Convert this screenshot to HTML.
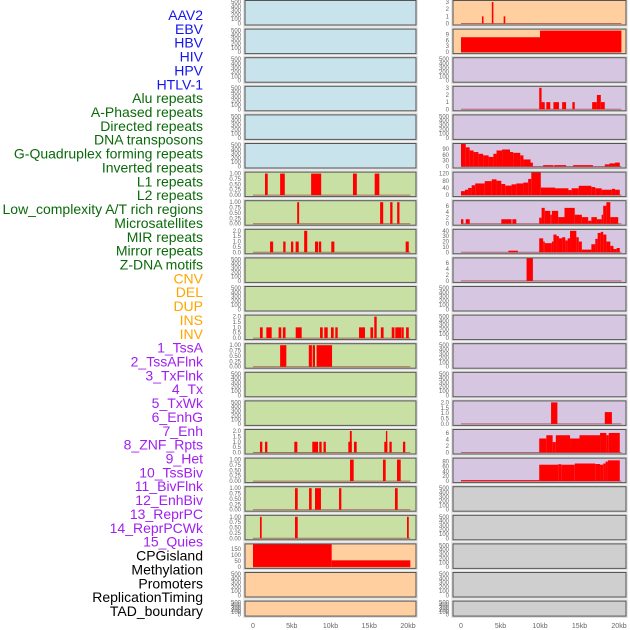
<!DOCTYPE html>
<html><head><meta charset="utf-8"><style>
html,body{margin:0;padding:0;background:#fff;width:630px;height:630px;overflow:hidden}
svg{display:block}
.lbl{font-family:"Liberation Sans",sans-serif;font-size:14px}
.tk{font-family:"Liberation Sans",sans-serif;font-size:6px;fill:#666}
.ax{font-family:"Liberation Sans",sans-serif;font-size:7px;fill:#666}
</style></head><body>
<svg id="chart" width="630" height="630" viewBox="0 0 630 630">
<g id="labels"></g>
<g id="panels"></g>
<g id="xaxis"></g>
</svg>
<script>
const trackLabels = ["AAV2","EBV","HBV","HIV","HPV","HTLV-1","Alu repeats","A-Phased repeats","Directed repeats","DNA transposons","G-Quadruplex forming repeats","Inverted repeats","L1 repeats","L2 repeats","Low_complexity A/T rich regions","Microsatellites","MIR repeats","Mirror repeats","Z-DNA motifs","CNV","DEL","DUP","INS","INV","1_TssA","2_TssAFlnk","3_TxFlnk","4_Tx","5_TxWk","6_EnhG","7_Enh","8_ZNF_Rpts","9_Het","10_TssBiv","11_BivFlnk","12_EnhBiv","13_ReprPC","14_ReprPCWk","15_Quies","CPGisland","Methylation","Promoters","ReplicationTiming","TAD_boundary"];
const labelGroups = [6,13,5,15,5];
const groupColors = ["#1515ee","#0a6a0a","#ffa500","#a020f0","#000000"];
const xTickKb = [0,5,10,15,20];
const xTickLabels = ["0","5kb","10kb","15kb","20kb"];
const emptyTicks = [0,100,200,300,400,500];
const unitTicks = [0,0.25,0.5,0.75,1.0];
const unitTickLabels = ["0.00","0.25","0.50","0.75","1.00"];
const twoTicks = [0,0.5,1.0,1.5,2.0];
const twoTickLabels = ["0.0","0.5","1.0","1.5","2.0"];

// Left column segments [startKb, endKb, value]
const segL6 = [[1.55,1.9,1],[3.5,4.1,1],[7.5,8.8,1],[12.9,13.4,1],[15.7,16.3,1]];
const segL7 = [[5.7,5.95,1],[16.4,16.8,1],[17.7,18.0,1],[18.6,18.9,1]];
const segL8 = [[2.2,2.6,1],[3.9,4.2,1],[4.9,5.2,1],[5.5,5.9,1],[6.6,7.0,2],[8.0,8.4,1],[8.5,8.8,1],[10.1,10.5,1],[19.7,20.1,1]];
const segL11 = [[0.9,1.25,1],[1.72,2.41,1],[3.3,3.65,1],[3.85,4.2,1],[5.51,6.28,1],[8.65,9.0,1],[9.2,9.64,1],[10.06,10.41,1],[10.62,10.93,1],[13.68,14.45,1],[15.15,15.5,1],[15.65,15.96,2],[16.5,16.85,1],[17.9,18.25,1],[18.36,19.1,1],[19.14,19.45,1],[19.75,20.1,1]];
const segL12 = [[3.5,4.3,1],[7.2,7.6,1],[7.7,8.0,1],[8.2,10.2,1]];
const segL15 = [[0.9,1.2,1],[1.55,1.85,1],[5.33,5.72,1],[7.65,8.39,1],[8.55,8.86,1],[9.1,9.4,1],[12.3,12.74,1],[12.5,12.74,2],[13.03,13.38,1],[16.94,17.33,1],[17.15,17.33,2],[17.6,17.9,1],[19.35,19.65,1]];
const segL16 = [[12.52,12.99,1],[16.77,17.12,1],[18.58,19.06,1]];
const segL17 = [[5.42,5.77,1],[7.23,7.57,1],[8.0,8.77,1],[11.1,11.4,1],[18.32,18.67,1]];
const segL18 = [[0.9,1.12,1],[5.42,5.77,1],[19.87,20.1,1]];
const segL19 = [[0,10.15,200],[10.15,20.3,55]];
// Right column
const segR0 = [[2.65,2.85,1],[3.9,4.1,3],[5.4,5.6,1]];
const segR1 = [[0,10,7.6],[10,20.3,11]];
const segR3 = [[9.9,10.2,3],[10.2,10.6,1],[10.8,11.3,1],[11.7,12.4,1],[12.8,13.3,1],[14.1,14.4,1],[16.6,17.2,1],[17.2,17.7,2],[17.7,18.2,1]];
const segR5 = [[0,0.6,115],[0.6,1.1,98],[1.1,1.6,82],[1.6,2.2,74],[2.2,2.8,65],[2.8,3.5,57],[3.5,4.1,49],[4.1,4.5,65],[4.5,5.2,82],[5.2,6.2,87],[6.2,6.6,74],[6.6,7.5,70],[7.5,7.9,57],[7.9,8.8,36],[8.8,9.1,20],[10.4,11.7,7],[11.8,13.3,7],[14.2,16.7,7],[18.2,18.8,11],[18.8,19.5,16],[19.5,20.1,20]];
const segR6 = [[0,0.5,22],[0.5,0.9,30],[0.9,1.35,40],[1.35,1.8,55],[1.8,3.0,65],[3.0,3.9,78],[3.9,4.5,88],[4.5,5.1,80],[5.1,5.6,62],[5.6,6.4,53],[6.4,7.0,60],[7.0,7.9,65],[7.9,8.5,70],[8.5,8.9,90],[8.9,10.1,133],[10.1,11.9,42],[11.9,13.6,38],[13.6,14.0,28],[14.0,14.9,38],[14.9,16.5,52],[16.5,17.0,45],[17.0,17.8,38],[17.8,19.1,30],[19.1,19.5,35],[19.5,20.1,30]];
const segR7 = [[0,0.3,1.5],[0.6,1.1,1.5],[5.1,6.4,1.5],[6.5,7.0,1.5],[9.9,10.2,2],[10.2,10.6,5.3],[10.6,11.3,4.3],[11.3,11.5,3],[11.5,12.3,4.3],[12.3,13.1,2.2],[13.1,14.4,5.3],[14.4,15.3,3],[15.3,16.1,2.2],[16.1,16.5,1],[16.5,17.2,2.2],[17.2,17.8,1.5],[17.8,18.0,3],[18.0,18.4,6],[18.4,18.9,7.2],[18.9,19.3,2.2],[19.3,19.9,2.2]];
const segR8 = [[6.0,7.2,3],[9.9,10.4,26],[10.4,10.6,20],[10.6,11.5,17],[11.5,11.7,20],[11.7,12.1,33],[12.1,12.4,30],[12.4,12.8,26],[12.8,13.2,28],[13.2,13.5,22],[13.5,13.8,26],[13.8,14.6,40],[14.6,14.9,28],[14.9,15.3,20],[15.3,16.5,5],[16.5,17.0,15],[17.0,17.3,25],[17.3,17.7,36],[17.7,18.0,38],[18.0,18.4,33],[18.4,18.9,20],[18.9,19.3,12],[19.3,19.7,6],[19.7,20.1,8]];
const segR9 = [[8.3,9.1,8]];
const segR14 = [[11.4,12.2,2],[18.2,19.1,1.1]];
const segR15 = [[9.9,10.8,4.3],[10.8,11.6,5.3],[11.6,12.0,3.2],[12.0,13.8,5.3],[13.8,15.0,4.3],[15.0,17.6,5.3],[17.6,18.4,6],[18.4,18.7,5.3],[18.7,20.1,6]];
const segR16 = [[0,9.9,4],[9.9,12.3,67],[12.3,12.7,69],[12.7,14.4,67],[14.4,17.0,72],[17.0,17.6,70],[17.6,18.0,67],[18.0,18.3,72],[18.3,18.6,80],[18.6,20.1,85]];

const BG = {b:"#c8e3eb",g:"#c8e0a4",o:"#ffcfa0",p:"#d6c6e1",k:"#cfcfcf"};
const leftBg = ["b","b","b","b","b","b","g","g","g","g","g","g","g","g","g","g","g","g","g","o","o","o"];
const rightBg = ["o","o","p","p","p","p","p","p","p","p","p","p","p","p","p","p","p","k","k","k","k","k"];
const leftTracks = {6:[segL6,unitTicks,unitTickLabels],7:[segL7,unitTicks,unitTickLabels],8:[segL8,twoTicks,twoTickLabels],11:[segL11,twoTicks,twoTickLabels],12:[segL12,unitTicks,unitTickLabels],15:[segL15,twoTicks,twoTickLabels],16:[segL16,unitTicks,unitTickLabels],17:[segL17,unitTicks,unitTickLabels],18:[segL18,unitTicks,unitTickLabels],19:[segL19,[0,50,100,150,180],["0","50","100","150",""]]};
const rightTracks = {0:[segR0,[0,1,2,3],["0","1","2","3"]],1:[segR1,[0,3,6,9,11],["0","3","6","9",""]],3:[segR3,[0,1,2,3],["0","1","2","3"]],5:[segR5,[0,30,60,90,110],["0","30","60","90",""]],6:[segR6,[0,40,80,120],["0","40","80","120"]],7:[segR7,[0,2,4,6,7.2],["0","2","4","6",""]],8:[segR8,[0,10,20,30,40],["0","10","20","30","40"]],9:[segR9,[0,2,4,6,7.2],["0","2","4","6",""]],14:[segR14,twoTicks,twoTickLabels],15:[segR15,[0,2,4,6,6.6],["0","2","4","6",""]],16:[segR16,[0,20,40,60,80,88],["0","20","40","60","80",""]]};

const NS="http://www.w3.org/2000/svg";
function mk(tag,attrs,parent){const e=document.createElementNS(NS,tag);for(const k in attrs)e.setAttribute(k,attrs[k]);parent.appendChild(e);return e;}

// labels
const lg=document.getElementById("labels");
let gi=0,cnt=0;
trackLabels.forEach((t,i)=>{
  while(cnt>=labelGroups[gi]){cnt=0;gi++;}
  cnt++;
  const e=mk("text",{x:203,y:15+i*13.86+5,"text-anchor":"end",class:"lbl",fill:groupColors[gi]},lg);
  e.textContent=t;
  
  
});

const cols=[{x0:245,x1:416,zero:253,pk:7.75},{x0:453,x1:626,zero:461,pk:7.9}];
const pg=document.getElementById("panels");
function drawPanel(col,row,bgKey,track){
  const c=cols[col];
  const top=0.5+28.6*row, h=row===21?15:24.5, bot=top+h;
  const g=mk("g",{},pg);
  
  
  mk("rect",{x:c.x0-1,y:top-1,width:c.x1-c.x0+2,height:h+2,fill:"none",stroke:"#ddd","stroke-width":1.5},g);
  const bg=mk("rect",{x:c.x0,y:top,width:c.x1-c.x0,height:h,fill:BG[bgKey]},g);
  
  
  let ticks=emptyTicks, tl=emptyTicks.map(String), segs=null;
  if(track){segs=track[0];ticks=track[1];tl=track[2];}
  const tmax=ticks[ticks.length-1];
  const y0=bot-1.5, ytop=top+1.5;
  const ys=v=>Math.max(top,y0-(v/tmax)*(y0-ytop));
  const xs=kb=>c.zero+kb*c.pk;
  ticks.forEach((t,i)=>{
    if(tl[i]==="")return;
    const e=mk("text",{x:c.x0-4,y:ys(t)+2,"text-anchor":"end",class:"tk"},g);
    e.textContent=tl[i];
    
    
  });
  if(segs){
    mk("line",{x1:xs(0),x2:xs(20.3),y1:y0,y2:y0,stroke:"#a04040","stroke-width":1,opacity:0.7},g);
    segs.forEach(s=>{
      const r=mk("rect",{x:xs(s[0]),y:ys(s[2]),width:Math.max(0.8,xs(s[1])-xs(s[0])),height:y0-ys(s[2]),fill:"#ff0000"},g);
      
      
    });
  }
  mk("rect",{x:c.x0,y:top,width:c.x1-c.x0,height:h,fill:"none",stroke:"#555","stroke-width":1},g);
}
for(let r=0;r<22;r++){drawPanel(0,r,leftBg[r],leftTracks[r]);drawPanel(1,r,rightBg[r],rightTracks[r]);}

const xg=document.getElementById("xaxis");
cols.forEach(c=>{
  xTickKb.forEach((k,i)=>{
    const e=mk("text",{x:c.zero+k*c.pk,y:628,"text-anchor":"middle",class:"ax"},xg);
    e.textContent=xTickLabels[i];
    
    
  });
});
</script>
</body></html>
